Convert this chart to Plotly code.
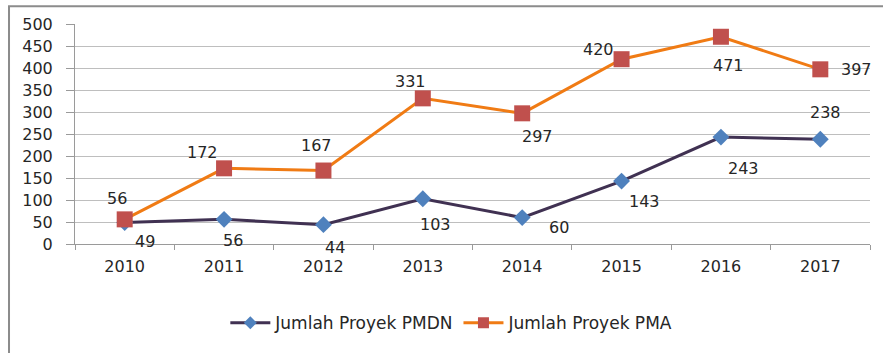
import plotly.graph_objects as go

# Data
years = ["2010", "2011", "2012", "2013", "2014", "2015", "2016", "2017"]
pmdn = [49, 56, 44, 103, 60, 143, 243, 238]
pma = [56, 172, 167, 331, 297, 420, 471, 397]
y_ticks = [0, 50, 100, 150, 200, 250, 300, 350, 400, 450, 500]

# Label offsets (pixels) relative to each point
pmdn_offsets = [(20, -19), (9, -21), (12, -23), (13, -26), (37, -10), (23, -20), (23, -31), (5, 27)]
pma_offsets = [(-8, 21), (-22, 16), (-7, 25), (-12, 17), (15, -23), (-23, 10), (8, -29), (36, 0)]

FONT = "DejaVu Sans"
TXT = "#262626"
FS = 16

PMDN_LINE, PMDN_MARK = "#403152", "#4F81BD"
PMA_LINE, PMA_MARK = "#F07B14", "#C0504D"

fig = go.Figure()
fig.add_trace(go.Scatter(
    x=years, y=pmdn, mode="lines+markers", name="Jumlah Proyek PMDN",
    line=dict(color=PMDN_LINE, width=3),
    marker=dict(symbol="diamond", size=13, color=PMDN_MARK),
    showlegend=False,
))
fig.add_trace(go.Scatter(
    x=years, y=pma, mode="lines+markers", name="Jumlah Proyek PMA",
    line=dict(color=PMA_LINE, width=3),
    marker=dict(symbol="square", size=16, color=PMA_MARK),
    showlegend=False,
))
# Legend entries with smaller symbols
fig.add_trace(go.Scatter(
    x=[None], y=[None], mode="lines+markers", name="Jumlah Proyek PMDN",
    line=dict(color=PMDN_LINE, width=3),
    marker=dict(symbol="diamond", size=10, color=PMDN_MARK),
))
fig.add_trace(go.Scatter(
    x=[None], y=[None], mode="lines+markers", name="Jumlah Proyek PMA",
    line=dict(color=PMA_LINE, width=3),
    marker=dict(symbol="square", size=11, color=PMA_MARK),
))

# Value labels beside each point
for vals, offs in ((pmdn, pmdn_offsets), (pma, pma_offsets)):
    for i, (yv, (dx, dy)) in enumerate(zip(vals, offs)):
        fig.add_annotation(
            x=i, y=yv, xref="x", yref="y", text=str(yv), showarrow=False,
            xshift=dx, yshift=dy,
            font=dict(family=FONT, size=FS, color=TXT),
        )

fig.update_layout(
    width=883, height=353,
    margin=dict(l=75, r=13, t=24, b=106),
    paper_bgcolor="white", plot_bgcolor="white",
    font=dict(family=FONT, size=FS, color=TXT),
    showlegend=True,
    legend=dict(
        orientation="h", x=0.474, xanchor="center", y=-0.36, yanchor="middle",
        font=dict(family=FONT, size=17, color=TXT),
        itemwidth=40, bgcolor="rgba(0,0,0,0)",
    ),
    shapes=[dict(
        type="rect", xref="paper", yref="paper",
        x0=-0.083, x1=1.2, y0=-0.7, y1=1.081,
        line=dict(color="#8C8C8C", width=2), layer="below",
    )],
)

fig.update_xaxes(
    type="category", range=[-0.5, 7.5],
    showline=True, linecolor="#9A9A9A", linewidth=1,
    ticks="outside", tickson="boundaries", ticklen=5, tickcolor="#9A9A9A",
    showgrid=False, ticklabelstandoff=8,
    tickfont=dict(family=FONT, size=FS, color=TXT),
)
fig.update_yaxes(
    range=[0, 500], tickvals=y_ticks,
    showline=True, linecolor="#9A9A9A", linewidth=1,
    ticks="outside", ticklen=8, tickcolor="#9A9A9A",
    showgrid=True, gridcolor="#BEBEBE", gridwidth=1,
    zeroline=False, ticklabelstandoff=10,
    tickfont=dict(family=FONT, size=FS, color=TXT),
)

fig.write_html("out.html")
